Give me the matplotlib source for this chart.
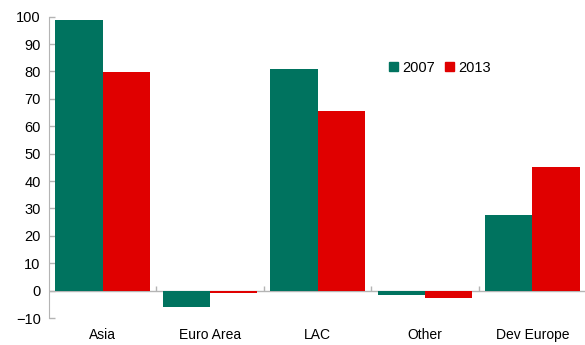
import matplotlib
matplotlib.use("Agg")
import matplotlib.pyplot as plt
import numpy as np
from matplotlib.patches import Patch

plt.rcParams["font.family"] = ["Liberation Sans", "DejaVu Sans"]

# Data
categories = ["Asia", "Euro Area", "LAC", "Other", "Dev Europe"]
series_names = ["2007", "2013"]
values_2007 = [98.8, -5.9, 80.9, -1.7, 27.7]
values_2013 = [79.7, -0.9, 65.6, -2.8, 45.2]
yticks = [-10, 0, 10, 20, 30, 40, 50, 60, 70, 80, 90, 100]

teal = "#00735f"
red = "#e00000"
gray = "#b4b4b4"

fig = plt.figure(figsize=(5.85, 3.45), dpi=100)
ax = fig.add_axes([49 / 585, 1 - 318 / 345, 537 / 585, (318 - 16.7) / 345])

x = np.arange(len(categories))
width = 0.44
ax.bar(x - width / 2, values_2007, width, color=teal, zorder=2)
ax.bar(x + width / 2, values_2013, width, color=red, zorder=2)

ax.set_xlim(-0.5, len(categories) - 0.5)
ax.set_ylim(-10, 100)
ax.set_yticks(yticks)
ax.tick_params(axis="y", direction="in", length=4, width=1, color=gray,
               pad=6, labelsize=10.5)

# category labels under the plot
ax.set_xticks(x)
ax.set_xticklabels(categories)
ax.tick_params(axis="x", length=0, pad=7, labelsize=10)

# zero line with category boundary ticks
ax.axhline(0, color=gray, lw=1, zorder=1)
bounds = np.arange(len(categories) + 1) - 0.5
ax.vlines(bounds[1:], 0, 1.6, color=gray, lw=1, zorder=1)

for s in ["top", "right", "bottom"]:
    ax.spines[s].set_visible(False)
ax.spines["left"].set_color(gray)

handles = [Patch(color=teal), Patch(color=red)]
fig.legend(handles, series_names, loc="center left",
           bbox_to_anchor=(389 / 585, 1 - 68 / 345), ncol=2, frameon=False,
           handlelength=0.6, handleheight=0.6, handletextpad=0.3,
           columnspacing=0.7, borderpad=0, borderaxespad=0, fontsize=10.5)

fig.savefig("out.png", dpi=100)
